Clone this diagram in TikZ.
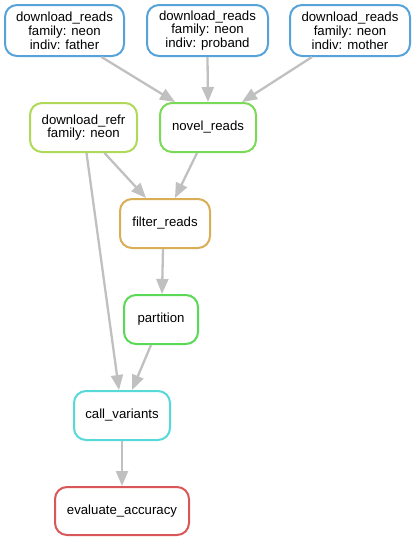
\documentclass[tikz,border=0pt]{standalone}
\usepackage{fontspec}
\setmainfont{Liberation Sans}
\usetikzlibrary{arrows.meta, positioning}
\colorlet{readsblue}{rgb,255:red,87;green,163;blue,217}
\colorlet{refrgreen}{rgb,255:red,175;green,217;blue,87}
\colorlet{novelgreen}{rgb,255:red,122;green,217;blue,87}
\colorlet{filterorange}{rgb,255:red,217;green,174;blue,87}
\colorlet{partgreen}{rgb,255:red,90;green,217;blue,87}
\colorlet{callcyan}{rgb,255:red,87;green,217;blue,217}
\colorlet{evalred}{rgb,255:red,217;green,87;blue,87}
\colorlet{edgegray}{rgb,255:red,192;green,192;blue,192}
\tikzset{
  rule/.style={rectangle, rounded corners=12pt, draw, line width=2pt, fill=white,
    align=center, inner sep=2pt, minimum height=49pt,
    font=\fontsize{13.2}{13.8}\selectfont},
  dep/.style={-{Triangle[length=15pt,width=12pt]}, draw=edgegray, line width=2.3pt}
}

\begin{document}
\begin{tikzpicture}[x=1pt, y=-1pt]
\useasboundingbox (0,0) rectangle (415,541);

% download steps
\node[rule, draw=readsblue, minimum width=119pt, minimum height=51pt] (dlfather) at (64.5,30.5) {download\_reads\\family: neon\\indiv: father};
\node[rule, draw=readsblue, minimum width=121pt, minimum height=51pt] (dlproband) at (207.5,30.5) {download\_reads\\family: neon\\indiv: proband};
\node[rule, draw=readsblue, minimum width=120pt, minimum height=51pt] (dlmother) at (350,30.5) {download\_reads\\family: neon\\indiv: mother};
\node[rule, draw=refrgreen, minimum width=107pt] (dlrefr) at (83.5,127.5) {download\_refr\\family: neon};

% processing
\node[rule, draw=novelgreen, minimum width=96pt] (novel) at (208,127.5) {novel\_reads};
\node[rule, draw=filterorange, minimum width=90pt] (filter) at (165,223.5) {filter\_reads};
\node[rule, draw=partgreen, minimum width=74pt] (partition) at (161,319.5) {partition};
\node[rule, draw=callcyan, minimum width=96pt] (callvar) at (122,415.5) {call\_variants};
\node[rule, draw=evalred, minimum width=134pt, minimum height=48pt] (evalacc) at (122,511) {evaluate\_accuracy};

% dependencies
\draw[dep] ([xshift=37pt]dlfather.south) -- ([xshift=-33pt]novel.north);
\draw[dep] (dlproband.south) -- (novel.north);
\draw[dep] ([xshift=-38pt]dlmother.south) -- ([xshift=34pt]novel.north);
\draw[dep] ([xshift=21pt]dlrefr.south) -- ([xshift=-19pt]filter.north);
\draw[dep] ([xshift=-11pt]novel.south) -- ([xshift=10pt]filter.north);
\draw[dep] ([xshift=3pt]dlrefr.south) -- ([xshift=-3pt]callvar.north);
\draw[dep] ([xshift=-2pt]filter.south) -- ([xshift=1pt]partition.north);
\draw[dep] ([xshift=-10pt]partition.south) -- ([xshift=10pt]callvar.north);
\draw[dep] (callvar.south) -- (evalacc.north);
\end{tikzpicture}
\end{document}
